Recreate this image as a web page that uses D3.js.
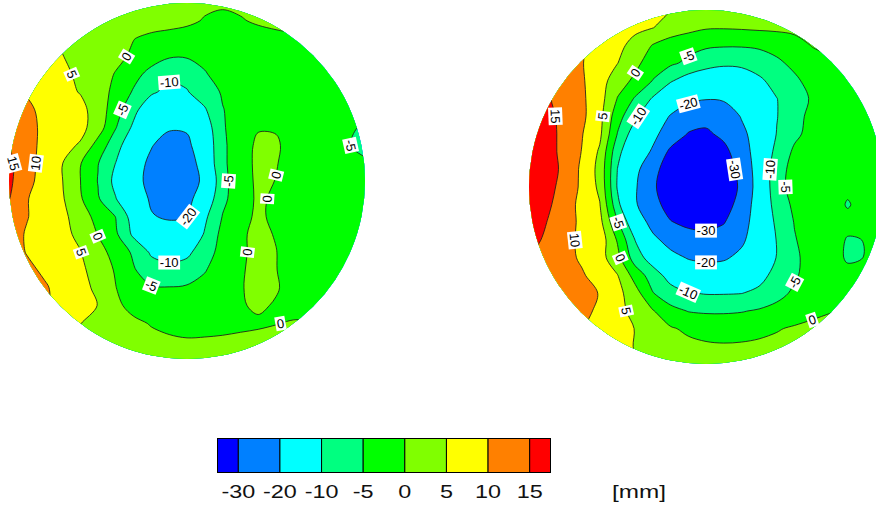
<!DOCTYPE html>
<html>
<head>
<meta charset="utf-8">
<script src="https://cdn.jsdelivr.net/npm/d3@7"></script>
<style>
  body { margin: 0; background: #fff; }
  svg { display: block; font-family: Arial, "Liberation Sans", sans-serif; }
</style>
</head>
<body>
<svg id="chart" width="876" height="506"></svg>
<script>
// Contour levels [mm] and the fill colour of each band (below first level ... above last level)
const levels = [-30, -20, -10, -5, 0, 5, 10, 15];
const bandColors = ["#0000ff", "#0080ff", "#00ffff", "#00ff80", "#00ff00", "#80ff00", "#ffff00", "#ff8000", "#ff0000"];
const legendLabels = ["-30", "-20", "-10", "-5", "0", "5", "10", "15"];
const unitLabel = "[mm]";

// Deviation field of the first surface, sampled on a 21 x 21 grid spanning the disk (row = top to bottom)
const leftGrid = [
  [7, 6.5, 6, 5.5, 4.8, 4, 3.5, 3, 2.5, 2, 1.5, 0.8, 0.6, 0.8, 1.2, 1.5, 1.5, 1.5, 1.5, 1.5, 1.5],
  [7, 6.5, 6, 5.5, 4.5, 3.5, 3, 2.5, 2, 1.5, 0.8, -0.3, -1, -0.3, 0.5, 1, 1.2, 1.3, 1.3, 1.2, 1],
  [8, 7, 5.8, 4.5, 3.5, 2.5, 1.5, 0.1, -1, -1.5, -1.8, -2, -2, -1.8, -1.5, -1, -0.5, 0.2, 0.3, 0.5, 0.5],
  [9, 8, 6.5, 5.1, 3.8, 2.5, 1.2, -0.8, -3, -4.6, -4.6, -4, -3.2, -2.5, -2.2, -2, -1.8, -1.5, -1.2, -1, -1],
  [10, 8.5, 7, 5.8, 4.3, 2.2, -0.3, -3.5, -6.5, -8.8, -8.5, -5.3, -3.5, -2.8, -2.3, -2.2, -2.3, -2.5, -2.6, -2.8, -3],
  [11, 9.5, 7.5, 6.2, 4.8, 2.5, -1.5, -5.5, -9.2, -11.5, -10.3, -7.5, -4.5, -3, -2.2, -2, -2.3, -2.7, -3, -3.3, -3.5],
  [13, 11.2, 8.5, 6.8, 6.3, 3, -3, -8.5, -14, -17, -16, -10.5, -5.2, -3, -1.5, -1.2, -1.8, -2.5, -3, -3.5, -4],
  [14, 11.5, 9, 7, 6.5, 2.5, -4.8, -11, -16, -19, -19, -13, -5.5, -2.5, -0.3, -0.3, -1.8, -2.8, -3.8, -4.6, -5.3],
  [14.8, 12, 8.5, 6.5, 4.5, -2, -8, -14, -19.5, -24, -22, -14, -6, -2, 0.8, 0.5, -1.5, -3, -4, -4.8, -5.8],
  [16, 12, 8, 5.1, 0.3, -4.8, -10.1, -16, -22, -27, -26, -14.5, -6, -2, 1, 0.2, -1.5, -2.8, -3.6, -4.2, -4.6],
  [16, 11.5, 8, 5.1, 0.1, -5.2, -11.5, -16.5, -23, -28, -27, -17, -6.2, -2.5, 1, -0.1, -1.8, -2.8, -3.3, -3.8, -4.2],
  [15.2, 10.3, 7.5, 5.5, 0.6, -4.5, -9.8, -15.5, -21, -25, -23, -14, -6, -2.5, 0.8, -0.8, -2, -2.8, -3.3, -3.6, -4],
  [13, 10.3, 7.5, 6, 3, -2, -5.1, -12.5, -19.5, -21, -20.5, -11, -4.8, -1.5, 0.8, -1, -2.2, -3, -3.3, -3.5, -3.8],
  [12.5, 9.5, 7.5, 6.2, 4, -0.2, -4.2, -11, -14.5, -16, -15, -9.5, -3.5, -0.5, 0.8, -0.2, -2, -3, -3.3, -3.5, -3.7],
  [12, 9.8, 8, 6.8, 5.2, 1.8, -1.8, -5.8, -10.8, -12, -11, -7.5, -3, -0.5, 0.8, 0.1, -1.8, -2.8, -3.2, -3.4, -3.6],
  [13, 11, 9.3, 7.5, 6, 3, -0.5, -4.6, -7.5, -8.5, -8, -5.3, -2.5, -0.3, 0.8, 0.1, -1.5, -2.5, -3, -3.2, -3.4],
  [14, 12.5, 10.5, 8.5, 6.5, 4, 0.1, -3, -4.6, -4.8, -4.4, -3.5, -2, -0.2, 0.8, 0.3, -1.2, -2.2, -2.7, -3, -3.2],
  [14, 12.5, 10.5, 8.5, 6.8, 4.9, 1, -1.5, -2.5, -2.8, -2.8, -2.5, -1.5, -0.3, 0.5, -0.3, -1.2, -2, -2.5, -2.8, -3],
  [12, 10, 8.5, 6.5, 5.1, 3.5, 2.2, 1, -0.3, -1, -1.3, -1.3, -1.2, -0.8, -0.5, -0.1, 0.3, 0.5, 0.6, 0.6, 0.6],
  [10, 9, 7.5, 6, 4.5, 3.5, 2.5, 1.8, 1.2, 0.6, 0.3, 0.4, 0.6, 0.8, 1, 1.1, 1.2, 1.2, 1.2, 1.2, 1.2],
  [9, 8, 7, 5.5, 4.5, 3.8, 3, 2.5, 2, 1.5, 1.2, 1.2, 1.2, 1.2, 1.2, 1.2, 1.2, 1.2, 1.2, 1.2, 1.2]
];

// Deviation field of the second surface, same sampling
const rightGrid = [
  [14, 13, 11.5, 10, 8.5, 7.5, 6.5, 5.8, 5.2, 4.5, 3.8, 3.2, 2.8, 2.5, 2.2, 2, 1.8, 1.5, 1.2, 1, 0.8],
  [15, 13.5, 12, 10.5, 8.5, 7, 6, 5.1, 3, 1.5, 0.4, 0.3, 0.5, 0.8, 1, 1.2, 1.2, 1.1, 1, 0.8, 0.6],
  [16, 14, 12.5, 10.5, 8, 6.2, 3.5, -0.3, -2.5, -3.5, -4.3, -4.6, -4.6, -4.3, -3.5, -1.8, 0.2, 0.8, 1, 1, 1],
  [17, 15, 12.5, 10.2, 7.8, 5.1, 1.2, -2.5, -4.2, -6, -8, -9, -8.8, -7.5, -5.8, -4, -2, -0.5, 0.3, 0.5, 0.5],
  [18, 16, 13.5, 10.5, 7.2, 2.2, -1, -5.2, -9.5, -12.5, -14, -14.5, -13.5, -11, -8, -5.8, -3.5, -1.5, -0.5, 0.1, 0.3],
  [19, 15.5, 13.5, 10.8, 7, -0.2, -5.5, -10.5, -15, -18, -19.5, -19, -17, -14, -10.1, -7, -4.5, -2.5, -1.5, -1, -0.5],
  [20, 16.5, 13.5, 11, 6.5, -3, -9, -15, -20.5, -25, -27, -25, -19.5, -16, -10.2, -6.5, -3.8, -2.2, -1.5, -1.2, -1],
  [20, 17, 13.5, 10.2, 6, -5.2, -13, -18, -24, -30.5, -31.5, -28, -22, -16, -9.8, -6, -3.5, -2.3, -1.8, -1.5, -1.3],
  [20, 17, 13.5, 9.8, 4.3, -8.5, -15, -21, -32, -36, -36, -32.5, -25, -15, -8.5, -4.2, -2.5, -2, -1.8, -1.7, -1.6],
  [20.5, 17, 14, 9, 3.5, -10.1, -17.5, -27, -35, -38, -38, -35, -27, -15.5, -6.5, -3.8, -2.6, -2.2, -2, -2, -2],
  [20.5, 16.5, 13.5, 9, 4, -10.5, -19, -28.5, -36, -38.5, -38, -35.5, -28.5, -15.5, -6.5, -3.5, -2.7, -2.5, -4, -2.6, -2.4],
  [20, 16, 12.5, 8.5, 5.2, -8.5, -19, -27, -33.5, -36, -36, -33.5, -27, -14.5, -8, -4, -2.8, -2.6, -5.4, -3.2, -2.8],
  [19, 15, 12, 9, 6.5, -4.5, -14.5, -23, -29.5, -32, -32.5, -30.5, -24, -15, -9, -4.8, -3, -2.6, -3.5, -3, -2.8],
  [17, 14, 11.5, 9, 8, -0.5, -10.1, -18, -23, -26, -27, -25.5, -21.5, -15, -9.8, -5.3, -3, -2.6, -5.4, -4.9, -3],
  [15, 13, 11.5, 9.3, 7, 1.5, -7.5, -12.5, -17.5, -20.5, -21.5, -21, -18, -14, -9.8, -5.8, -3.3, -2.8, -5.6, -4.9, -3],
  [14, 13, 12, 10.5, 8, 5.2, -2, -7.5, -12, -14.5, -15.5, -15, -13.5, -11.5, -8.5, -5.5, -3.3, -2.6, -3.6, -3.2, -2.8],
  [13, 13, 12.5, 11.5, 9.8, 6.5, 2, -4.8, -8, -9.7, -10.3, -10.3, -10.1, -9, -6.5, -4.2, -2.5, -2, -2, -2, -2],
  [12, 12, 12, 11, 9.3, 6.5, 3.5, 0.3, -3.5, -5.2, -5.6, -5.6, -5.3, -4.5, -3.5, -2.3, -1, -0.2, 0.3, 0.5, 0.5],
  [11, 11, 11, 10.1, 8.5, 6.5, 4.9, 3, 0.5, -0.9, -1.6, -1.8, -1.6, -1.1, -0.3, 0.5, 1, 1.2, 1.3, 1.3, 1.2],
  [10, 10, 9.5, 9, 8, 6.5, 4.8, 3.5, 2.2, 1.2, 0.6, 0.4, 0.5, 0.8, 1.1, 1.4, 1.5, 1.5, 1.5, 1.5, 1.4],
  [9.5, 9.5, 9, 8.5, 7.5, 6.5, 5.2, 4, 3, 2.2, 1.6, 1.4, 1.4, 1.5, 1.7, 1.8, 1.8, 1.8, 1.8, 1.8, 1.8]
];

// Contour labels: [level, approximate grid column, approximate grid row]
const leftLabels = [
  [0, 6.35, 3.2], [5, 3.65, 4.33], [-10, 8.76, 4.72], [-5, 6.57, 5.5],
  [15, 0.22, 9.4], [10, 1.35, 9.4], [-5, 12.2, 9.94], [0, 15.1, 9.4],
  [0, 14.55, 10.9], [-20, 10, 12], [0, 5.28, 13.5], [5, 4.27, 14.3],
  [-10, 8.65, 14.4], [0, 13.15, 14.4], [-5, 7.75, 15.7], [0, 15.3, 17.9],
  [-5, 19.3, 8.4]
];
const rightLabels = [
  [-5, 9.5, 2.7], [0, 6.05, 3.84], [-20, 9.27, 5.54], [-10, 6.55, 5.93],
  [5, 4.3, 6.5], [15, 1.36, 6.4], [-30, 11.8, 9.2], [-10, 13.5, 8.87],
  [-5, 14.3, 9.77], [10, 2.3, 12.8], [-5, 4.97, 12.26], [0, 5.14, 14],
  [-30, 9.94, 12.8], [-20, 10.34, 14.3], [-10, 8.93, 15.8], [-5, 15.14, 15.25],
  [5, 5.42, 16.84], [0, 16.84, 16.95]
];

// Disk placement on the page
const leftDisk = { cx: 187, cy: 181, r: 178 };
const rightDisk = { cx: 706, cy: 187, r: 177 };

const svg = d3.select("#chart");
const defs = svg.append("defs");

function drawDisk(grid, disk, labels, id) {
  const rows = grid.length, cols = grid[0].length;
  // d3.contours places sample i at coordinate i + 0.5
  const x = d3.scaleLinear().domain([0.5, cols - 0.5]).range([disk.cx - disk.r, disk.cx + disk.r]);
  const y = d3.scaleLinear().domain([0.5, rows - 0.5]).range([disk.cy - disk.r, disk.cy + disk.r]);
  const bands = d3.contours().size([cols, rows]).thresholds(levels)(grid.flat());

  defs.append("clipPath").attr("id", id)
    .append("circle").attr("cx", disk.cx).attr("cy", disk.cy).attr("r", disk.r);

  const g = svg.append("g").attr("clip-path", `url(#${id})`);
  g.append("rect")
    .attr("x", x(0)).attr("y", y(0))
    .attr("width", x(cols) - x(0)).attr("height", y(rows) - y(0))
    .attr("fill", bandColors[0]);

  const line = d3.line()
    .x(p => x(p[0])).y(p => y(p[1]))
    .curve(d3.curveCatmullRomClosed.alpha(0.5));
  const toPath = b => b.coordinates
    .map(poly => poly.map(ring => line(ring.slice(0, -1))).join(""))
    .join("");

  g.selectAll("path.band").data(bands).join("path")
    .attr("class", "band")
    .attr("d", toPath)
    .attr("fill", (d, k) => bandColors[k + 1])
    .attr("fill-rule", "evenodd");

  g.selectAll("path.iso").data(bands).join("path")
    .attr("class", "iso")
    .attr("d", toPath)
    .attr("fill", "none")
    .attr("stroke", "#1c1c1c")
    .attr("stroke-width", 0.85);

  // Labels sit on the nearest vertex of their iso-line, turned along it
  const lg = svg.append("g").attr("class", "labels");
  labels.forEach(([lv, gi, gj]) => {
    const band = bands[levels.indexOf(lv)];
    const tx = x(gi + 0.5), ty = y(gj + 0.5);
    let best = null, bd = Infinity;
    band.coordinates.forEach(poly => poly.forEach(ring => {
      const pts = ring.slice(0, -1).map(p => [x(p[0]), y(p[1])]);
      const n = pts.length;
      pts.forEach((p, k) => {
        if (Math.hypot(p[0] - disk.cx, p[1] - disk.cy) > disk.r - 3) return;
        const d = Math.hypot(p[0] - tx, p[1] - ty);
        if (d < bd) {
          bd = d;
          best = { p, prev: pts[(k - 2 + n) % n], next: pts[(k + 2) % n] };
        }
      });
    }));
    if (!best) return;
    let a = Math.atan2(best.next[1] - best.prev[1], best.next[0] - best.prev[0]) * 180 / Math.PI;
    if (a > 90) a -= 180;
    if (a <= -90) a += 180;
    const lab = lg.append("g")
      .attr("transform", `translate(${best.p[0]},${best.p[1]}) rotate(${a})`);
    const t = lab.append("text")
      .attr("text-anchor", "middle")
      .attr("dy", "0.36em")
      .attr("font-size", 13)
      .attr("fill", "#000")
      .text(String(lv));
    const bb = t.node().getBBox();
    lab.insert("rect", "text")
      .attr("x", bb.x - 1.5).attr("y", bb.y + 0.5)
      .attr("width", bb.width + 3).attr("height", bb.height - 1)
      .attr("fill", "#fff");
  });
}

drawDisk(leftGrid, leftDisk, leftLabels, "clip-left");
drawDisk(rightGrid, rightDisk, rightLabels, "clip-right");

// Colour bar
const lx = d3.scaleLinear().domain([-0.5, levels.length - 0.5]).range([217.5, 550.5]);
const legend = svg.append("g").attr("class", "legend");
bandColors.forEach((c, b) => {
  const k0 = b === 0 ? -0.5 : b - 1;
  const k1 = b === levels.length ? levels.length - 0.5 : b;
  legend.append("rect")
    .attr("x", lx(k0)).attr("y", 438.5)
    .attr("width", lx(k1) - lx(k0)).attr("height", 34)
    .attr("fill", c).attr("stroke", "#000").attr("stroke-width", 1);
});
legendLabels.forEach((s, k) => {
  legend.append("text")
    .attr("transform", `translate(${lx(k)},498) scale(1.3,1)`)
    .attr("text-anchor", "middle")
    .attr("font-size", 18)
    .attr("fill", "#111")
    .text(s);
});
legend.append("text")
  .attr("transform", "translate(639,498) scale(1.35,1)")
  .attr("text-anchor", "middle")
  .attr("font-size", 18)
  .attr("fill", "#111")
  .text(unitLabel);
</script>
</body>
</html>
